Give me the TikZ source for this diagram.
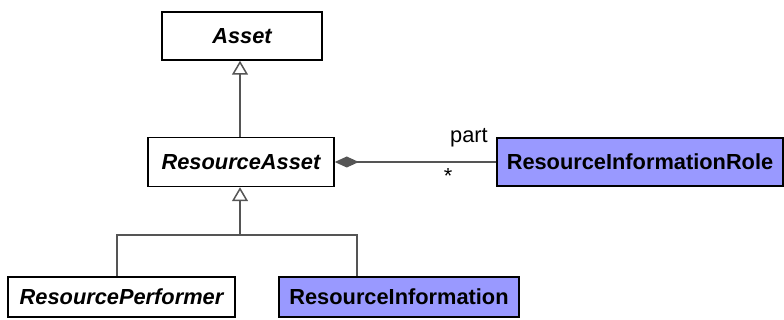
\documentclass[tikz,border=0pt]{standalone}
\usepackage{fontspec}
\setmainfont{Liberation Sans}
\usetikzlibrary{arrows.meta}
\definecolor{umlblue}{RGB}{153,153,255}
\definecolor{linegray}{RGB}{85,85,85}
\begin{document}
\begin{tikzpicture}[x=1pt,y=-1pt,
  cls/.style={draw=black,line width=1.5pt,inner sep=0pt,font=\fontsize{21.8}{26}\selectfont\bfseries},
  abstr/.style={cls,fill=white,font=\fontsize{21.8}{26}\selectfont\bfseries\itshape},
  concr/.style={cls,fill=umlblue},
  conn/.style={draw=linegray,line width=1.5pt},
  gen/.style={conn,-{Triangle[open,length=14pt,width=16pt,fill=white]}},
  comp/.style={conn,{Diamond[length=24pt,width=11pt,fill=linegray]}-}]
\clip (0,0) rectangle (784,320);
\node[abstr,minimum width=160,minimum height=48] (asset) at (242,36) {Asset};
\node[abstr,minimum width=186,minimum height=49] (resasset) at (241,162) {ResourceAsset};
\node[concr,minimum width=286,minimum height=48] (resinforole) at (640,162) {ResourceInformationRole};
\node[abstr,minimum width=227,minimum height=40] (resperf) at (121.5,297) {ResourcePerformer};
\node[concr,minimum width=240,minimum height=40] (resinfo) at (399,297) {ResourceInformation};
\coordinate (fork) at (240,235);
% generalisations
\draw[gen] (240,137) -- (asset.south -| 240,0);
\draw[gen] (fork) -- (resasset.south -| fork);
\draw[conn] (resperf.north -| 117,0) |- (fork) -| (resinfo.north -| 357,0);
% composition
\draw[comp] (resasset.east) -- (resinforole.west);
\node[font=\fontsize{21.8}{26}\selectfont] (partlbl) at (469,138) {part};
\node[font=\fontsize{21.8}{26}\selectfont] (multlbl) at (448,176) {*};
\end{tikzpicture}
\end{document}
